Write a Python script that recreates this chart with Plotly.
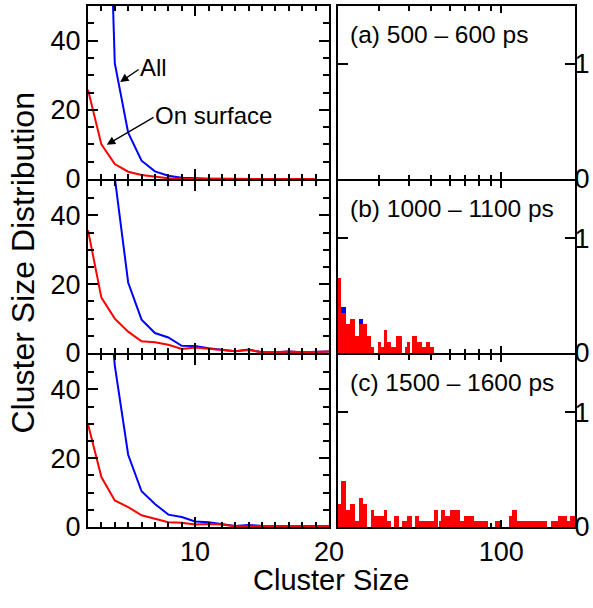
import math
import plotly.graph_objects as go

FONT = "Arial, Liberation Sans, Helvetica, sans-serif"
RED = "#ff0000"
BLUE = "#0000ff"

# ---------------- Left column: line data (cluster size 2..20) ----------------
red_size_a = list(range(2, 20))
red_a = [25.8, 10.0, 4.3, 2.1, 1.15, 0.57, 0.2, 0.1, 0.05, 0.03, 0.02, 0.02, 0.01, 0.01, 0.01, 0.0, 0.0, 0.0]
blue_size_a = list(range(3, 20))
blue_a = [160, 33.5, 13.4, 5.3, 2.2, 0.96, 0.38, 0.19, 0.08, 0.05, 0.03, 0.02, 0.02, 0.01, 0.01, 0.0, 0.0]

red_size_b = list(range(2, 21))
red_b = [35.7, 16.1, 10.0, 6.2, 3.4, 3.1, 2.4, 1.2, 1.6, 1.2, 1.0, 0.5, 0.9, 0.2, 0.2, 0.4, 0.2, 0.2, 0.4]
blue_size_b = list(range(3, 21))
blue_b = [200, 51, 20.5, 9.7, 5.8, 4.5, 2.1, 2.0, 1.4, 1.0, 0.5, 1.0, 0.2, 0.2, 0.4, 0.2, 0.2, 0.4]

red_size_c = list(range(2, 21))
red_c = [29.9, 14.5, 7.7, 5.8, 3.4, 2.4, 1.4, 1.25, 0.7, 0.9, 0.7, 0.2, 0.3, 0.3, 0.3, 0.3, 0.2, 0.2, 0.3]
blue_size_c = list(range(3, 21))
blue_c = [90, 47, 21, 10.4, 6.7, 3.6, 2.9, 1.6, 1.4, 0.8, 0.3, 0.6, 0.3, 0.3, 0.3, 0.2, 0.2, 0.3]

# ---------------- Right column: bar data (cluster size >= 20) ----------------
bar_size_b = list(range(20, 52))
red_bar_b = [0.65, 0.35, 0.25, 0.30, 0.15, 0.25, 0.25, 0.15, 0.05, 0.0, 0.10, 0.05, 0.20, 0.10, 0.05, 0.05,
             0.15, 0.15, 0.0, 0.05, 0.10, 0.0, 0.15, 0.15, 0.10, 0.10, 0.05, 0.05, 0.10, 0.10, 0.05, 0.05]
blue_bar_b = [0.65, 0.40, 0.25, 0.30, 0.15, 0.30, 0.25, 0.15, 0.05, 0.0, 0.10, 0.05, 0.20, 0.10, 0.05, 0.05,
              0.15, 0.15, 0.0, 0.05, 0.10, 0.0, 0.15, 0.15, 0.10, 0.10, 0.05, 0.05, 0.10, 0.10, 0.05, 0.05]

# panel (c): runs of equal value (first size, last size, value)
run_first_c = [20, 21, 22, 23, 24, 25, 26, 27, 28, 29, 32, 33, 34, 35, 37, 38, 40, 42, 43, 45, 52, 54, 55, 56,
               58, 61, 67, 70, 77, 88, 95, 99, 109, 112, 117, 124, 125, 157, 165, 177, 191, 199]
run_last_c = [20, 21, 22, 23, 24, 25, 26, 27, 28, 31, 32, 33, 34, 36, 37, 39, 41, 42, 44, 51, 53, 54, 55, 57,
              60, 66, 69, 76, 87, 94, 98, 108, 111, 116, 123, 124, 156, 164, 176, 190, 198, 206]
run_value_c = [0.20, 0.40, 0.15, 0.20, 0.05, 0.25, 0.20, 0.0, 0.15, 0.10, 0.15, 0.05, 0.0, 0.10, 0.0, 0.05,
               0.10, 0.0, 0.10, 0.05, 0.15, 0.0, 0.05, 0.15, 0.10, 0.15, 0.05, 0.10, 0.05, 0.0, 0.05, 0.0,
               0.10, 0.15, 0.05, 0.0, 0.05, 0.0, 0.05, 0.10, 0.05, 0.10]

bar_size_c, red_bar_c = [], []
for a, b, v in zip(run_first_c, run_last_c, run_value_c):
    for s in range(a, b + 1):
        bar_size_c.append(s)
        red_bar_c.append(v)
blue_bar_c = list(red_bar_c)

panel_labels = ["(a) 500 \u2013 600 ps", "(b) 1000 \u2013 1100 ps", "(c) 1500 \u2013 1600 ps"]

fig = go.Figure()

left_sets = [
    (blue_size_a, blue_a, red_size_a, red_a),
    (blue_size_b, blue_b, red_size_b, red_b),
    (blue_size_c, blue_c, red_size_c, red_c),
]
right_sets = [
    None,
    (bar_size_b, blue_bar_b, red_bar_b),
    (bar_size_c, blue_bar_c, red_bar_c),
]

for i in range(3):
    lx = "x" if i == 0 else f"x{2 * i + 1}"
    ly = "y" if i == 0 else f"y{2 * i + 1}"
    bs, bv, rs, rv = left_sets[i]
    fig.add_trace(go.Scatter(x=bs, y=bv, mode="lines", line=dict(color=BLUE, width=2),
                             xaxis=lx, yaxis=ly, showlegend=False, hoverinfo="skip"))
    fig.add_trace(go.Scatter(x=rs, y=rv, mode="lines", line=dict(color=RED, width=2),
                             xaxis=lx, yaxis=ly, showlegend=False, hoverinfo="skip"))
    rx = f"x{2 * i + 2}"
    ry = f"y{2 * i + 2}"
    if right_sets[i] is not None:
        s, bvals, rvals = right_sets[i]
        fig.add_trace(go.Bar(x=s, y=bvals, marker=dict(color=BLUE, line=dict(width=0)),
                             xaxis=rx, yaxis=ry, showlegend=False))
        fig.add_trace(go.Bar(x=s, y=rvals, marker=dict(color=RED, line=dict(width=0)),
                             xaxis=rx, yaxis=ry, showlegend=False))
    else:
        # empty panel: a placeholder so the subplot is drawn
        fig.add_trace(go.Scatter(x=[100], y=[0.5], mode="lines", line=dict(color="rgba(0,0,0,0)"),
                                 xaxis=rx, yaxis=ry, showlegend=False, hoverinfo="skip"))

W, H = 593, 608
ML, MR, MT, MB = 88, 18, 6, 81
PW = W - ML - MR
PH = H - MT - MB
BOT = H - MB
LEFT_END, RIGHT_START = 329, 338
left_dom = [0, (LEFT_END - ML) / PW]
right_dom = [(RIGHT_START - ML) / PW, 1]
# panel pixel edges (axis lines are drawn just outside each panel, so leave 2 px between rows)
row_px = [(6, 179), (181, 353), (355, 527)]
row_doms = [[(BOT - b) / PH, (BOT - t) / PH] for t, b in row_px]

tickfont = dict(family=FONT, size=27, color="black")
common = dict(showline=True, linewidth=2, linecolor="black", mirror="allticks", ticks="inside",
              tickwidth=1.5, tickcolor="black", showgrid=False, zeroline=False, tickfont=tickfont,
              automargin=False)

layout = dict(
    template="none",
    width=W, height=H,
    margin=dict(l=ML, r=MR, t=MT, b=MB, pad=0, autoexpand=False),
    paper_bgcolor="white", plot_bgcolor="white",
    barmode="overlay", bargap=0,
    font=dict(family=FONT, color="black"),
    showlegend=False,
)

log_left = math.log10(20) - 0.3 / 233.3
xr_log = [log_left, log_left + (W - MR - RIGHT_START) / 233.3]
for i in range(3):
    lxk = "xaxis" if i == 0 else f"xaxis{2 * i + 1}"
    lyk = "yaxis" if i == 0 else f"yaxis{2 * i + 1}"
    rxk = f"xaxis{2 * i + 2}"
    ryk = f"yaxis{2 * i + 2}"
    ly = "y" if i == 0 else f"y{2 * i + 1}"
    lx = "x" if i == 0 else f"x{2 * i + 1}"
    ry = f"y{2 * i + 2}"
    rx = f"x{2 * i + 2}"
    last = i == 2
    layout[lxk] = dict(common, domain=left_dom, anchor=ly, range=[2, 20], tick0=0, dtick=10, ticklen=10,
                       showticklabels=last,
                       minor=dict(dtick=1, tick0=0, ticks="inside", ticklen=5, tickwidth=1.5, tickcolor="black"))
    layout[lyk] = dict(common, domain=row_doms[i], anchor=lx, range=[0, 50], tick0=0, dtick=20, ticklen=10,
                       minor=dict(dtick=5, tick0=0, ticks="inside", ticklen=6, tickwidth=1.5, tickcolor="black"))
    layout[rxk] = dict(common, type="log", domain=right_dom, anchor=ry, range=xr_log, tickmode="array",
                       tickvals=[100], ticktext=["100"], ticklen=7, showticklabels=last, layer="below traces",
                       minor=dict(tickmode="array", tickvals=[30, 40, 50, 60, 70, 80, 90], ticks="inside",
                                  ticklen=4.5, tickwidth=1.5, tickcolor="black"))
    layout[ryk] = dict(common, domain=row_doms[i], anchor=rx, range=[0, 1.5], tickmode="array",
                       tickvals=[0, 1], ticktext=["0", "1"], ticklen=10, side="right", layer="below traces",
                       ticklabelstandoff=-8)

annotations = []
for i, txt in enumerate(panel_labels):
    rx = f"x{2 * i + 2}"
    ry = f"y{2 * i + 2}"
    annotations.append(dict(text=txt, xref=f"{rx} domain", yref=f"{ry} domain", x=0.042, y=1 - 28 / 173,
                            xanchor="left", yanchor="middle", showarrow=False,
                            font=dict(family=FONT, size=24.5, color="black")))

# arrows + labels in panel (a)
annotations.append(dict(text="", xref="x", yref="y", x=4.4, y=28.0, ax=20, ay=-13.7,
                        showarrow=True, arrowhead=2, arrowsize=1.3, arrowwidth=1.3, arrowcolor="black"))
annotations.append(dict(text="All", xref="x", yref="y", x=6.86, y=32.2, showarrow=False,
                        xanchor="center", yanchor="middle", font=dict(family=FONT, size=24, color="black")))
annotations.append(dict(text="", xref="x", yref="y", x=3.4, y=9.9, ax=48.3, ay=-28.3,
                        showarrow=True, arrowhead=2, arrowsize=1.3, arrowwidth=1.3, arrowcolor="black"))
annotations.append(dict(text="On surface", xref="x", yref="y", x=11.4, y=18.3, showarrow=False,
                        xanchor="center", yanchor="middle", font=dict(family=FONT, size=24, color="black")))

# shared axis titles
annotations.append(dict(text="Cluster Size Distribution", xref="paper", yref="paper",
                        x=(22 - ML) / PW, y=1 - (263.5 - MT) / PH, textangle=-90,
                        xanchor="center", yanchor="middle", showarrow=False,
                        font=dict(family=FONT, size=32, color="black")))
annotations.append(dict(text="Cluster Size", xref="paper", yref="paper",
                        x=(331 - ML) / PW, y=1 - (580 - MT) / PH,
                        xanchor="center", yanchor="middle", showarrow=False,
                        font=dict(family=FONT, size=29, color="black")))

layout["annotations"] = annotations
fig.update_layout(**layout)
fig.write_html("out.html", config={"displayModeBar": False},
               post_script="document.body.style.margin='0';")
